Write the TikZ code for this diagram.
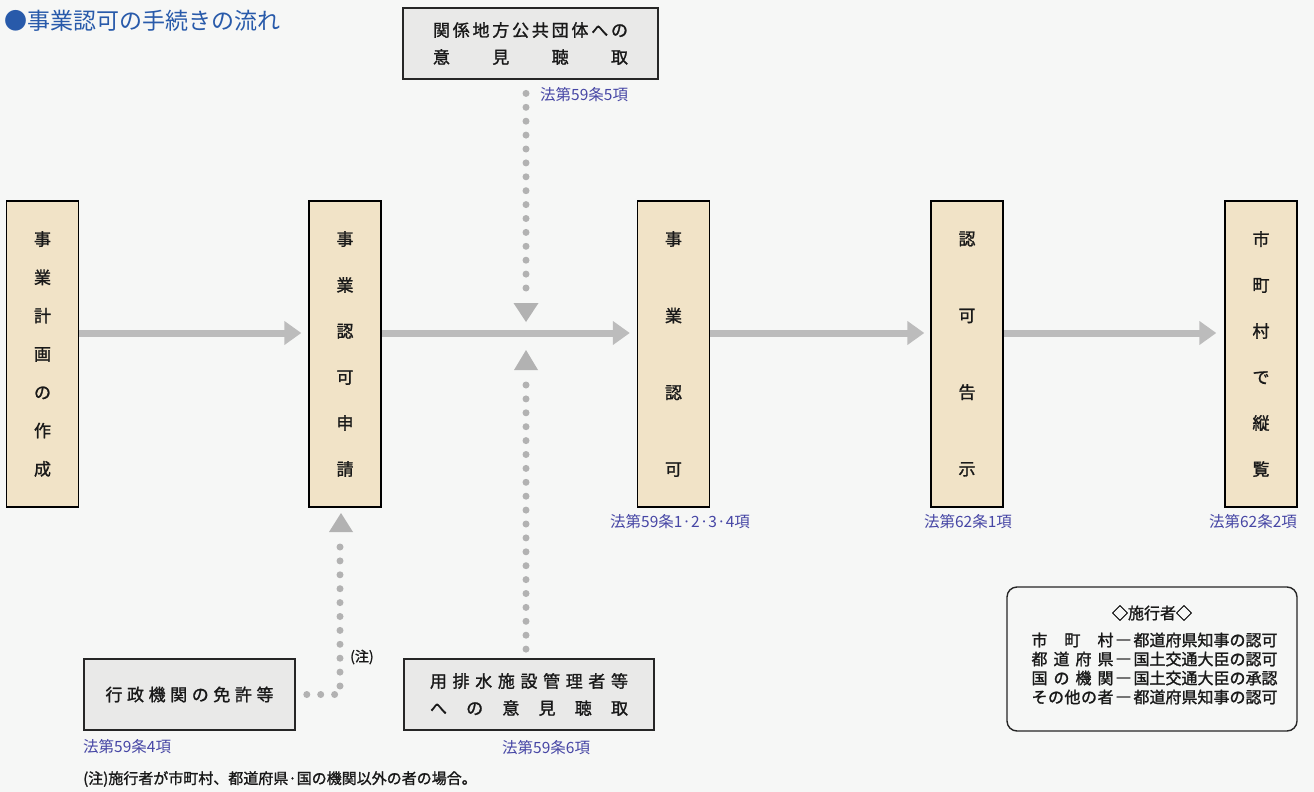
\documentclass[tikz,border=0pt]{standalone}
\usepackage{fontspec}
\setmainfont{Noto Sans CJK JP}
\newfontfamily\jpb[FakeBold=1.4]{Noto Sans CJK JP}
\usetikzlibrary{arrows.meta}
\definecolor{bgc}{RGB}{246,247,246}
\definecolor{beige}{RGB}{241,227,199}
\definecolor{gfill}{RGB}{233,233,232}
\definecolor{arrowc}{RGB}{188,188,188}
\definecolor{dotc}{RGB}{178,178,178}
\definecolor{lawc}{RGB}{70,70,165}
\definecolor{titlec}{RGB}{40,90,170}
\definecolor{txt}{RGB}{25,25,25}
\pgfdeclarelayer{bglayer}
\pgfdeclarelayer{linklayer}
\pgfsetlayers{bglayer,linklayer,main}
\tikzset{
  vbox/.style={draw=black, line width=1.4pt, fill=beige, minimum width=72pt,
    minimum height=306pt, inner sep=0pt, align=center, text=txt},
  gbox/.style={draw=black!85, line width=1.6pt, fill=gfill, inner sep=0pt,
    align=center, text=txt, font=\jpb\fontsize{17}{27}\selectfont},
  law/.style={text=lawc, font=\fontsize{15.5}{17}\selectfont, inner sep=0pt},
  flow/.style={draw=arrowc, line width=7pt,
    -{Triangle[length=17pt 0 0, width=23pt 0 0]}},
  dots/.style={draw=dotc, line width=7pt, line cap=round,
    dash pattern=on 0pt off 13.9pt},
  tri/.style={fill=dotc}
}
\begin{document}
\begin{tikzpicture}[x=1pt,y=-1pt]
\begin{pgfonlayer}{bglayer}
\fill[bgc] (0,0) rectangle (1314,792);
\end{pgfonlayer}
\useasboundingbox (0,0) rectangle (1314,792);

% title
\node[anchor=west, text=titlec, font=\fontsize{23}{25}\selectfont, inner sep=0pt] (title) at (4,21) {●事業認可の手続きの流れ};

% main boxes
\node[vbox, font=\jpb\fontsize{17}{38.3}\selectfont] (b1) at (42.5,354) {事\\業\\計\\画\\の\\作\\成};
\node[vbox, font=\jpb\fontsize{17}{46}\selectfont] (b2) at (345,354) {事\\業\\認\\可\\申\\請};
\node[vbox, font=\jpb\fontsize{17}{76.7}\selectfont] (b3) at (673.5,354) {事\\業\\認\\可};
\node[vbox, font=\jpb\fontsize{17}{76.7}\selectfont] (b4) at (967,354) {認\\可\\告\\示};
\node[vbox, font=\jpb\fontsize{17}{46}\selectfont] (b5) at (1261,354) {市\\町\\村\\で\\縦\\覧};

% side boxes
\node[gbox, minimum width=255pt, minimum height=71pt] (tb) at (530.5,43.5)
  {\makebox[195pt]{関\hfill 係\hfill 地\hfill 方\hfill 公\hfill 共\hfill 団\hfill 体\hfill へ\hfill の}\\
   \makebox[195pt]{意\hfill 見\hfill 聴\hfill 取}};
\node[gbox, minimum width=250pt, minimum height=71pt] (bb) at (529,694.5)
  {\makebox[198pt]{用\hfill 排\hfill 水\hfill 施\hfill 設\hfill 管\hfill 理\hfill 者\hfill 等}\\
   \makebox[198pt]{へ\hfill の\hfill 意\hfill 見\hfill 聴\hfill 取}};
\node[gbox, minimum width=211pt, minimum height=71pt] (lb) at (189.5,694.5)
  {\makebox[168pt]{行\hfill 政\hfill 機\hfill 関\hfill の\hfill 免\hfill 許\hfill 等}};

% flow arrows
\begin{pgfonlayer}{linklayer}
\draw[flow, shorten >=7pt] ([yshift=21pt]b1.east) -- ([yshift=21pt]b2.west);
\draw[flow, shorten >=7pt] ([yshift=21pt]b2.east) -- ([yshift=21pt]b3.west);
\draw[flow, shorten >=6pt] ([yshift=21pt]b3.east) -- ([yshift=21pt]b4.west);
\draw[flow, shorten >=8pt] ([yshift=21pt]b4.east) -- ([yshift=21pt]b5.west);

% dotted connectors
\coordinate (d1) at (526,288);
\coordinate (t1) at (526,322);
\draw[dots] (d1) -- (d1 |- tb.south);
\fill[tri] (t1) -- ++(-12.5,-19) -- ++(25,0) -- cycle;

\coordinate (d2) at (526,385);
\coordinate (t2) at (526,350);
\draw[dots] (d2) -- (d2 |- bb.north);
\fill[tri] (t2) -- ++(-12,20) -- ++(24,0) -- cycle;

\coordinate (d3) at (340,547);
\coordinate (t3) at (341,513);
\draw[dots] (d3) -- (d3 |- lb.east) -- (lb.east);
\fill[tri] (t3) -- ++(-12,19) -- ++(24,0) -- cycle;
\end{pgfonlayer}

% law labels
\node[law, anchor=west] (l1) at (540,95) {法第59条5項};
\node[law] (l2) at (680,522) {法第59条1·2·3·4項};
\node[law] (l3) at (968,522) {法第62条1項};
\node[law] (l4) at (1253,522) {法第62条2項};
\node[law, anchor=west] (l5) at (83,747) {法第59条4項};
\node[law, anchor=west] (l6) at (502,748) {法第59条6項};
\node[anchor=west, text=txt, font=\jpb\fontsize{14}{16}\selectfont, inner sep=0pt] (note) at (350,657) {(注)};
\node[anchor=west, text=txt, font=\jpb\fontsize{15}{17}\selectfont, inner sep=0pt] (foot) at (83,779) {(注)施行者が市町村、都道府県·国の機関以外の者の場合。};

% legend
\node[draw=black!85, line width=1.4pt, rounded corners=10pt, fill=bgc,
  minimum width=290pt, minimum height=144pt] (lg) at (1152,659) {};
\node[text=txt, font=\jpb\fontsize{16}{18}\selectfont, inner sep=0pt] (lgt) at (1152,613) {◇施行者◇};
\node[text=txt, font=\jpb\fontsize{16}{19}\selectfont, inner sep=0pt, align=left] (lgb) at (1154.5,668.5)
  {\makebox[82pt]{市\hfill 町\hfill 村}\makebox[20pt]{―}都道府県知事の認可\\
   \makebox[82pt]{都\hfill 道\hfill 府\hfill 県}\makebox[20pt]{―}国土交通大臣の認可\\
   \makebox[82pt]{国\hfill の\hfill 機\hfill 関}\makebox[20pt]{―}国土交通大臣の承認\\
   \makebox[82pt]{そ\hfill の\hfill 他\hfill の\hfill 者}\makebox[20pt]{―}都道府県知事の認可};
\end{tikzpicture}
\end{document}
